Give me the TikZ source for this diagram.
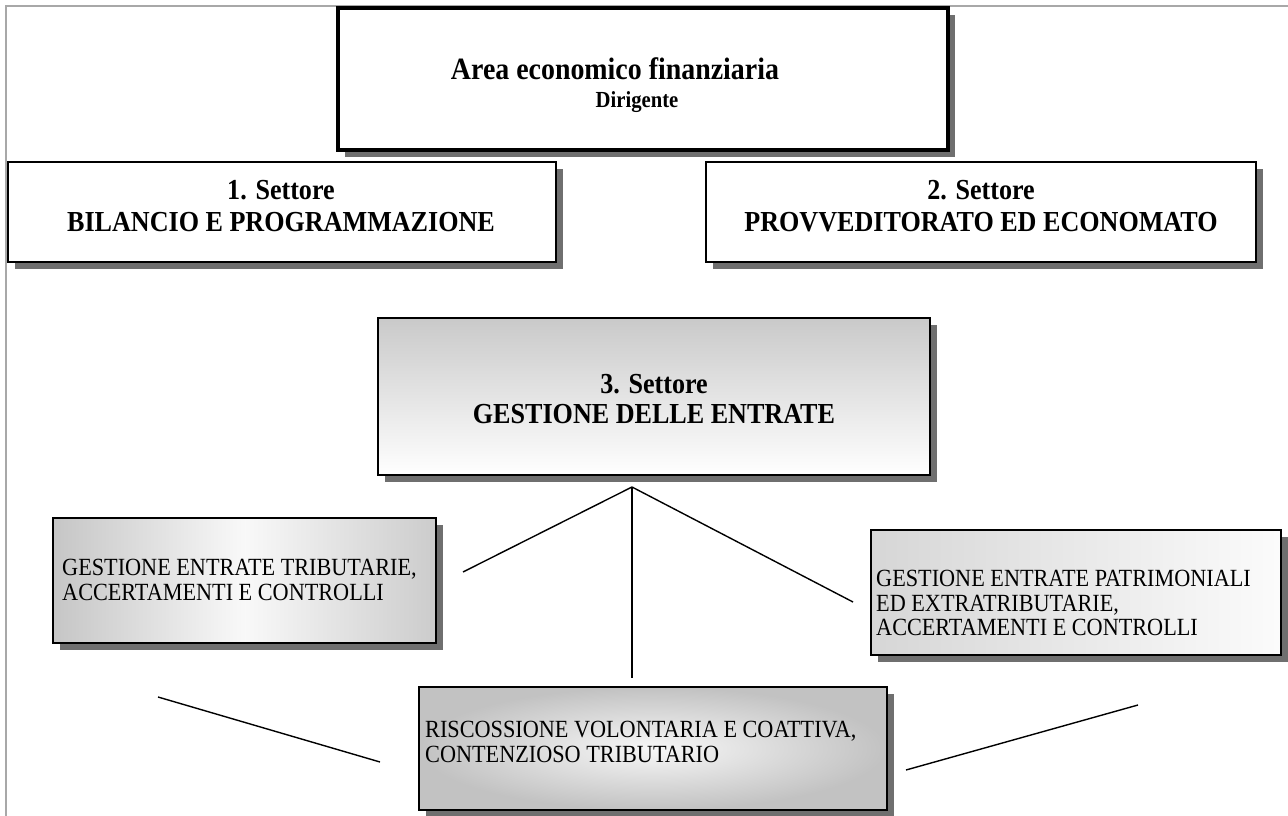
\documentclass[tikz,border=0pt]{standalone}
\usepackage{fontspec}
\setmainfont{Liberation Serif}[FakeStretch=0.9]
\usetikzlibrary{shadows}
\definecolor{shadowgray}{HTML}{6F6F6F}
\definecolor{framegray}{HTML}{A8A8A8}
\tikzset{
  riquadro/.style={
    draw, rectangle, inner sep=0pt,
    drop shadow={shadow xshift=7pt, shadow yshift=-7pt,
      fill=shadowgray, opacity=1}
  },
  areabox/.style={riquadro, line width=4pt, fill=white},
  settore/.style={riquadro, line width=2pt, fill=white},
  gestione/.style={riquadro, line width=2.5pt,
    top color=gray!42, bottom color=white},
  ufficio/.style={riquadro, line width=2pt},
  titolo/.style={font=\fontsize{31}{34}\selectfont\bfseries, inner sep=0pt, anchor=base},
  sottotitolo/.style={font=\fontsize{23}{26}\selectfont\bfseries, inner sep=0pt, anchor=base},
  intestazione/.style={font=\fontsize{29}{32}\selectfont\bfseries, inner sep=0pt, anchor=base},
  voce/.style={font=\fontsize{24.7}{27}\selectfont, inner sep=0pt, anchor=base west},
  link/.style={line width=1.4pt},
}

\begin{document}
\begin{tikzpicture}[x=1pt, y=-1pt]
  \useasboundingbox (0,0) rectangle (1288,816);
  % cornice
  \draw[framegray, line width=2pt] (6,816) -- (6,6) -- (1288,6);

  % riquadri
  \node[areabox, minimum width=610pt, minimum height=142pt] (area) at (643,79) {};
  \node[settore, minimum width=548pt, minimum height=100pt] (set1) at (282,212) {};
  \node[settore, minimum width=550pt, minimum height=100pt] (set2) at (981,212) {};
  \node[gestione, minimum width=552pt, minimum height=157pt] (set3) at (654,396.5) {};
  \node[ufficio, minimum width=383pt, minimum height=125pt,
        left color=gray!45, right color=gray!40, middle color=gray!5] (tribut) at (244.5,580.5) {};
  \node[ufficio, minimum width=410pt, minimum height=125pt,
        left color=gray!32, right color=gray!3] (patrim) at (1076,592.5) {};
  \node[ufficio, minimum width=468pt, minimum height=123pt,
        shading=radial, inner color=gray!6, outer color=gray!48] (riscoss) at (653,748.5) {};

  % testi
  \node[titolo] (areaT) at (615,80) {Area economico finanziaria};
  \node[sottotitolo] (areaD) at (637,107) {Dirigente};
  \node[intestazione] (set1a) at (281,199) {1. Settore};
  \node[intestazione] (set1b) at (281,231) {BILANCIO E PROGRAMMAZIONE};
  \node[intestazione] (set2a) at (981,199) {2. Settore};
  \node[intestazione] (set2b) at (981,231) {PROVVEDITORATO ED ECONOMATO};
  \node[intestazione] (set3a) at (654,393) {3. Settore};
  \node[intestazione] (set3b) at (654,423) {GESTIONE DELLE ENTRATE};
  \node[voce] (tributa) at (62,575) {GESTIONE ENTRATE TRIBUTARIE,};
  \node[voce] (tributb) at (62,600) {ACCERTAMENTI E CONTROLLI};
  \node[voce] (patrima) at (876,586) {GESTIONE ENTRATE PATRIMONIALI};
  \node[voce] (patrimb) at (876,611) {ED EXTRATRIBUTARIE,};
  \node[voce] (patrimc) at (876,635) {ACCERTAMENTI E CONTROLLI};
  \node[voce] (riscossa) at (425,737) {RISCOSSIONE VOLONTARIA E COATTIVA,};
  \node[voce] (riscossb) at (425,762) {CONTENZIOSO TRIBUTARIO};

  % linee
  \coordinate (apice) at (632,487);
  \coordinate (capoL) at (463,572);
  \coordinate (capoR) at (853,602);
  \coordinate (capoB) at (632,678);
  \coordinate (bassoL1) at (158,697);
  \coordinate (bassoL2) at (380,762);
  \coordinate (bassoR1) at (1138,705);
  \coordinate (bassoR2) at (906,770);
  \draw[link] (apice) -- (capoL);
  \draw[link] (apice) -- (capoR);
  \draw[link, line width=2pt] (apice) -- (capoB);
  \draw[link] (bassoL1) -- (bassoL2);
  \draw[link] (bassoR1) -- (bassoR2);
\end{tikzpicture}
\end{document}
